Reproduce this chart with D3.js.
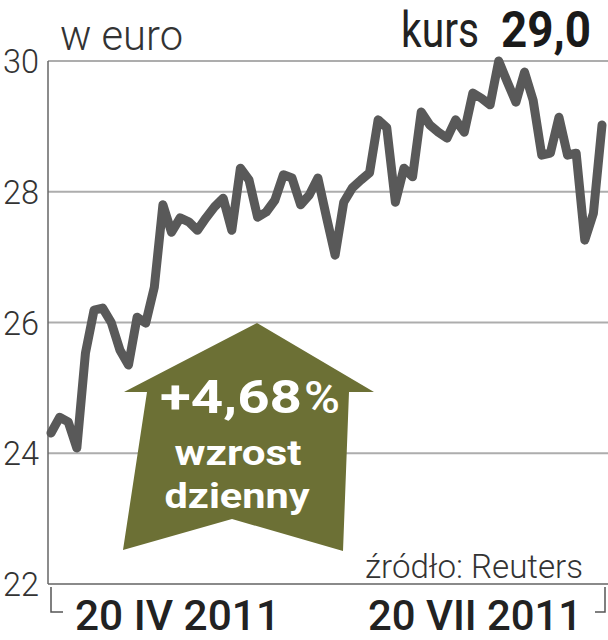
<!DOCTYPE html>
<html><head><meta charset="utf-8">
<script src="https://cdn.jsdelivr.net/npm/d3@7"></script>
<style>body{margin:0;background:#fff}svg{display:block}</style>
</head><body>
<svg id="c" width="608" height="640"></svg>
<script>
const prices = [24.31,24.55,24.48,24.08,25.53,26.19,26.22,26.0,25.58,25.35,26.08,25.99,26.54,27.8,27.38,27.6,27.54,27.41,27.6,27.77,27.9,27.41,28.36,28.18,27.61,27.69,27.87,28.26,28.21,27.8,27.95,28.21,27.61,27.03,27.84,28.06,28.18,28.29,29.1,28.98,27.84,28.36,28.23,29.22,29.02,28.91,28.82,29.1,28.91,29.51,29.43,29.33,30.0,29.68,29.37,29.83,29.4,28.56,28.59,29.14,28.56,28.59,27.26,27.67,29.02];
const yTicks = [22,24,26,28,30];
const dateLabels = ["20 IV 2011","20 VII 2011"];
const unitLabel = "w euro";
const lastLabel = "kurs";
const lastValue = "29,0";
const changeLines = ["+4,68", "%","wzrost","dzienny"];
const sourceLabel = "źródło: Reuters";

const svg = d3.select("#c");
const x = d3.scaleLinear().domain([0, prices.length-1]).range([51, 602]);
const y = d3.scaleLinear().domain([22,30]).range([584, 61]);
const left = 48, right = 608;

// gridlines
svg.append("g").selectAll("line").data(yTicks).join("line")
  .attr("x1", left).attr("x2", right)
  .attr("y1", d=>y(d)).attr("y2", d=>y(d))
  .attr("stroke", d=> d===22 ? "#8a8a8a" : "#adadad").attr("stroke-width", 2);
// y axis
svg.append("line").attr("x1",left).attr("x2",left).attr("y1",y(30)).attr("y2",y(22))
  .attr("stroke","#666").attr("stroke-width",1.5);
// y labels
svg.append("g").selectAll("text").data(yTicks).join("text")
  .attr("x", 39).attr("y", d=>y(d)+12).attr("text-anchor","end")
  .attr("font-family","Roboto").attr("font-weight",300).attr("font-size",34)
  .attr("fill","#333").attr("textLength",36).attr("lengthAdjust","spacingAndGlyphs").text(d=>d);

// line
svg.append("path").datum(prices)
  .attr("d", d3.line().x((d,i)=>x(i)).y(d=>y(d)))
  .attr("fill","none").attr("stroke","#595959").attr("stroke-width",9)
  .attr("stroke-linejoin","round").attr("stroke-linecap","round");

// arrow
const arrowPts = [[257,323],[374,392],[349,392],[343,551],[232,519],[123,550],[147,392],[124,392]];
svg.append("polygon").attr("points", arrowPts.map(p=>p.join(",")).join(" "))
  .attr("fill","#6c7035");
const at = svg.append("g").attr("font-family","Roboto").attr("fill","#fff");
at.append("text").attr("x",160).attr("y",413).attr("font-weight",700).attr("font-size",46).attr("textLength",142).attr("lengthAdjust","spacingAndGlyphs").text(changeLines[0]);
at.append("text").attr("x",304).attr("y",413).attr("font-weight",500).attr("font-size",44).attr("textLength",36).attr("lengthAdjust","spacingAndGlyphs").text(changeLines[1]);
at.append("text").attr("x",238).attr("y",465).attr("text-anchor","middle").attr("font-weight",700).attr("font-size",35).attr("textLength",127).attr("lengthAdjust","spacingAndGlyphs").text(changeLines[2]);
at.append("text").attr("x",237).attr("y",508).attr("text-anchor","middle").attr("font-weight",700).attr("font-size",35).attr("textLength",145).attr("lengthAdjust","spacingAndGlyphs").text(changeLines[3]);

// titles
svg.append("text").attr("x",60).attr("y",50).attr("font-family","Roboto").attr("font-weight",300)
  .attr("font-size",42).attr("fill","#333").attr("textLength",123).attr("lengthAdjust","spacingAndGlyphs").text(unitLabel);
svg.append("text").attr("x",401).attr("y",47).attr("font-family","Roboto").attr("font-weight",400)
  .attr("font-size",50).attr("fill","#222").attr("textLength",78).attr("lengthAdjust","spacingAndGlyphs").text(lastLabel);
svg.append("text").attr("x",501).attr("y",47).attr("font-family","Roboto").attr("font-weight",700)
  .attr("font-size",50).attr("fill","#1a1a1a").attr("textLength",90).attr("lengthAdjust","spacingAndGlyphs").text(lastValue);

// source
svg.append("text").attr("x",583).attr("y",578).attr("text-anchor","end").attr("font-family","Roboto").attr("font-weight",300)
  .attr("font-size",34).attr("fill","#333").attr("textLength",218).attr("lengthAdjust","spacingAndGlyphs").text(sourceLabel);

// bottom bracket
const bx0 = x(0), bx1 = x(prices.length-1)+3;
svg.append("path").attr("d",`M${bx0},587V612H${bx0+12}`).attr("fill","none").attr("stroke","#555").attr("stroke-width",1.5);
svg.append("path").attr("d",`M${bx1},587V612H${bx1-10}`).attr("fill","none").attr("stroke","#555").attr("stroke-width",1.5);
svg.append("text").attr("x",75).attr("y",630).attr("font-family","Roboto").attr("font-weight",500)
  .attr("font-size",43).attr("fill","#222").attr("textLength",205).attr("lengthAdjust","spacingAndGlyphs").text(dateLabels[0]);
svg.append("text").attr("x",582).attr("y",630).attr("text-anchor","end").attr("font-family","Roboto").attr("font-weight",500)
  .attr("font-size",43).attr("fill","#222").attr("textLength",214).attr("lengthAdjust","spacingAndGlyphs").text(dateLabels[1]);
</script>
</body></html>
